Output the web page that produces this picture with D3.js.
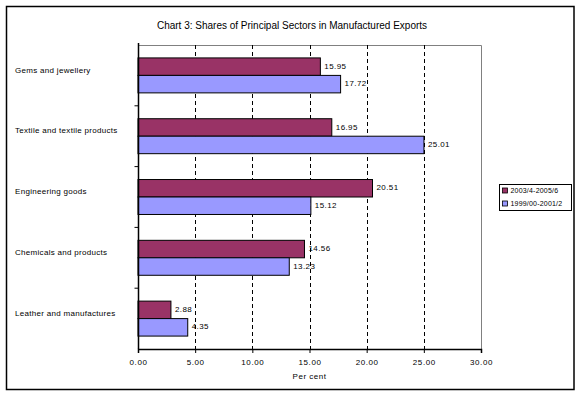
<!DOCTYPE html>
<html>
<head>
<meta charset="utf-8">
<script src="https://cdn.jsdelivr.net/npm/d3@7"></script>
<style>
  body { margin: 0; background: #fff; }
  svg text { font-family: Arial, "Liberation Sans", sans-serif; }
</style>
</head>
<body>
<svg id="chart"></svg>
<script>
const width = 580;
const height = 395;

// data --------------------------------------------
const sectors = [
    'Gems and jewellery',
    'Textile and textile products',
    'Engineering goods',
    'Chemicals and products',
    'Leather and manufactures',
];
const seriesNames = ['2003/4-2005/6', '1999/00-2001/2'];
const recent = [15.95, 16.95, 20.51, 14.56, 2.88];
const earlier = [17.72, 25.01, 15.12, 13.23, 4.35];
const xTicks = [0, 5, 10, 15, 20, 25, 30];
const colors = ['#993366', '#9999FF'];

const plot = { left: 138, right: 481, top: 45, bottom: 349 };

const svg = d3.select('svg#chart')
    .attr('width', width)
    .attr('height', height);

// outer frame
svg.append('rect')
    .attr('x', 6.5).attr('y', 6.5)
    .attr('width', 567.5).attr('height', 383)
    .attr('fill', 'white')
    .attr('stroke', 'black')
    .attr('stroke-width', 1.5);

svg.append('text')
    .text('Chart 3: Shares of Principal Sectors in Manufactured Exports')
    .attr('x', 292).attr('y', 29)
    .attr('text-anchor', 'middle')
    .style('font-size', '10px');

const x = d3.scaleLinear()
    .domain([0, 30])
    .range([plot.left, plot.right]);

const y0 = d3.scaleBand()
    .domain(sectors)
    .range([plot.top, plot.bottom]);

const groupH = y0.bandwidth() * 0.575;
const y1 = d3.scaleBand()
    .domain(seriesNames)
    .range([(y0.bandwidth() - groupH) / 2, (y0.bandwidth() + groupH) / 2]);

// plot area border (gray top/right)
svg.append('path')
    .attr('d', `M${plot.left},${plot.top + 0.5}H${plot.right + 0.5}V${plot.bottom}`)
    .attr('fill', 'none')
    .attr('stroke', '#808080')
    .attr('stroke-width', 1);

// dashed grid
svg.append('g')
    .selectAll('line')
    .data(xTicks.filter(d => d > 0 && d < 30))
    .join('line')
    .attr('x1', d => Math.round(x(d)) + 0.5)
    .attr('x2', d => Math.round(x(d)) + 0.5)
    .attr('y1', plot.top)
    .attr('y2', plot.bottom)
    .attr('stroke', 'black')
    .attr('stroke-dasharray', '4,3');

const rows = sectors.map((s, i) => ({
    sector: s,
    values: [
        { series: seriesNames[0], value: recent[i], color: colors[0] },
        { series: seriesNames[1], value: earlier[i], color: colors[1] },
    ],
}));

const groups = svg.append('g')
    .selectAll('g')
    .data(rows)
    .join('g')
    .attr('transform', d => `translate(0,${y0(d.sector)})`);

groups.selectAll('rect')
    .data(d => d.values)
    .join('rect')
    .attr('x', x(0))
    .attr('y', d => y1(d.series))
    .attr('width', d => x(d.value) - x(0))
    .attr('height', y1.bandwidth())
    .attr('fill', d => d.color)
    .attr('stroke', 'black')
    .attr('stroke-width', 1);

groups.selectAll('text.val')
    .data(d => d.values)
    .join('text')
    .attr('class', 'val')
    .text(d => d.value.toFixed(2))
    .attr('x', d => x(d.value) + 4)
    .attr('y', d => y1(d.series) + y1.bandwidth() / 2)
    .attr('dominant-baseline', 'middle')
    .style('font-size', '8px')
    .style('letter-spacing', '0.4px');

// category labels
groups.append('text')
    .text(d => d.sector)
    .attr('x', 15)
    .attr('y', y0.bandwidth() / 2 - 5)
    .attr('dominant-baseline', 'middle')
    .style('font-size', '8px')
    .style('letter-spacing', '0.3px');

// y axis
const yAxis = svg.append('g')
    .attr('transform', `translate(${plot.left + 0.5},0)`);
yAxis.append('line')
    .attr('y1', plot.top - 2).attr('y2', plot.bottom)
    .attr('stroke', 'black').attr('stroke-width', 1.5);
yAxis.selectAll('line.tick')
    .data(sectors.slice(1))
    .join('line')
    .attr('class', 'tick')
    .attr('x1', -4).attr('x2', 0)
    .attr('y1', d => y0(d)).attr('y2', d => y0(d))
    .attr('stroke', 'black');

// x axis
const xAxis = svg.append('g')
    .attr('transform', `translate(0,${plot.bottom})`)
    .call(d3.axisBottom(x)
        .tickValues(xTicks)
        .tickFormat(d3.format('.2f'))
        .tickSize(4)
        .tickPadding(6));
xAxis.select('.domain')
    .attr('stroke', 'black')
    .attr('stroke-width', 1.5);
xAxis.selectAll('text')
    .style('font-family', 'Arial, "Liberation Sans", sans-serif')
    .style('font-size', '8px')
    .style('letter-spacing', '0.6px');

svg.append('text')
    .text('Per cent')
    .attr('x', (plot.left + plot.right) / 2)
    .attr('y', 379)
    .attr('text-anchor', 'middle')
    .style('font-size', '8px')
    .style('letter-spacing', '0.5px');

// legend
const legend = svg.append('g')
    .attr('transform', 'translate(499.5,184.5)');
legend.append('rect')
    .attr('width', 72).attr('height', 26)
    .attr('fill', 'white')
    .attr('stroke', 'black')
    .attr('stroke-width', 1);
const items = legend.selectAll('g')
    .data(seriesNames)
    .join('g')
    .attr('transform', (d, i) => `translate(3,${6.5 + i * 13})`);
items.append('rect')
    .attr('y', -3)
    .attr('width', 5).attr('height', 5)
    .attr('fill', (d, i) => colors[i])
    .attr('stroke', 'black')
    .attr('stroke-width', 0.8);
items.append('text')
    .text(d => d)
    .attr('x', 8)
    .attr('y', 0)
    .attr('dominant-baseline', 'middle')
    .style('font-size', '7px')
    .style('letter-spacing', '0.2px');
</script>
</body>
</html>
